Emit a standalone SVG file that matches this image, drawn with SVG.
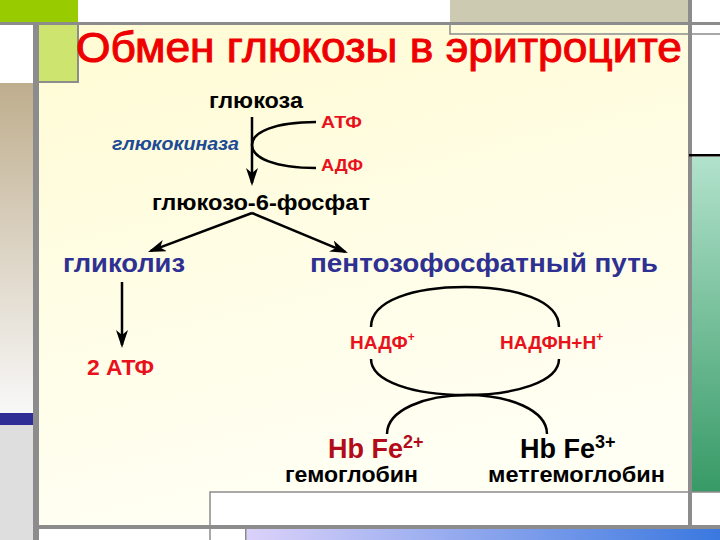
<svg xmlns="http://www.w3.org/2000/svg" width="720" height="540" viewBox="0 0 720 540">
  <defs>
    <linearGradient id="bgMain" x1="0" y1="0" x2="0.3" y2="1">
      <stop offset="0" stop-color="#fffbd4"/>
      <stop offset="1" stop-color="#fffff4"/>
    </linearGradient>
    <linearGradient id="tan" x1="0" y1="0" x2="0" y2="1">
      <stop offset="0" stop-color="#bfae8e"/>
      <stop offset="1" stop-color="#f8f8f8"/>
    </linearGradient>
    <linearGradient id="green" x1="0" y1="0" x2="0" y2="1">
      <stop offset="0" stop-color="#b2e2cc"/>
      <stop offset="1" stop-color="#379a66"/>
    </linearGradient>
    <linearGradient id="blueBar" x1="0" y1="0" x2="1" y2="0">
      <stop offset="0" stop-color="#dcd2fa"/>
      <stop offset="1" stop-color="#3a78e0"/>
    </linearGradient>
    <marker id="arrow" viewBox="0 0 18 12" refX="15" refY="6" markerWidth="18" markerHeight="12" markerUnits="userSpaceOnUse" orient="auto">
      <path d="M0,0 L18,6 L0,12 L5,6 z" fill="#000"/>
    </marker>
    <style>
      .t { font-family: "Liberation Sans", Arial, sans-serif; font-weight: bold; }
      .blk { fill: #000; }
      .red { fill: #e8121c; }
      .dred { fill: #b20c1a; }
      .blue { fill: #2e3192; }
      .conn { stroke: #000; stroke-width: 2.5; fill: none; }
      .arr { marker-end: url(#arrow); }
      .gray { fill: #8c8c8c; }
      .ttl { font-family: "Liberation Sans", Arial, sans-serif; font-weight: normal; fill: #ee0000; stroke: #ee0000; stroke-width: 1; }
    </style>
  </defs>

  <!-- background decoration -->
  <g id="background">
    <rect x="0" y="0" width="720" height="540" fill="#ffffff"/>
    <rect x="39" y="25" width="649" height="500" fill="url(#bgMain)"/>
    <rect x="0" y="0" width="78" height="22" fill="#99cc00"/>
    <rect x="450" y="0" width="238" height="23" fill="#cccab0"/>
    <rect x="0" y="22" width="720" height="3" class="gray"/>
    <rect x="39" y="25" width="39" height="57" fill="#cde46e"/>
    <rect x="77" y="25" width="2" height="58" class="gray"/>
    <rect x="39" y="81" width="40" height="2" class="gray"/>
    <rect x="0" y="83" width="33" height="330" fill="url(#tan)"/>
    <rect x="0" y="413" width="33" height="12" fill="#2e2e96"/>
    <rect x="0" y="425" width="33" height="115" fill="#dedede"/>
    <rect x="33" y="25" width="6" height="515" class="gray"/>
    <rect x="688" y="0" width="4" height="540" class="gray"/>
    <path d="M450,25 V34 H720" stroke="#8c8c8c" stroke-width="1.5" fill="none"/>
    <rect x="692" y="157" width="28" height="335" fill="url(#green)"/>
    <rect x="689" y="154" width="31" height="2.5" fill="#000"/>
    <rect x="210" y="492" width="478" height="33" fill="#ffffff"/>
    <path d="M210,540 V492 H720" stroke="#8c8c8c" stroke-width="1.5" fill="none"/>
    <rect x="39" y="525" width="681" height="4" class="gray"/>
    <rect x="245" y="529" width="475" height="11" fill="url(#blueBar)"/>
    <rect x="245" y="529" width="1.5" height="11" class="gray"/>
  </g>

  <g id="title">
    <text class="ttl" x="76" y="62" font-size="43" textLength="606" lengthAdjust="spacingAndGlyphs">Обмен глюкозы в эритроците</text>
  </g>

  <!-- connectors -->
  <g id="connectors">
    <line class="conn arr" x1="252" y1="117" x2="252" y2="183"/>
    <path class="conn" d="M316,122 C275,122 252,132 252,145 C252,158 275,168 316,168"/>
    <line class="conn arr" x1="252" y1="213" x2="150.8" y2="250.9"/>
    <line class="conn arr" x1="252" y1="213" x2="345.2" y2="251.8"/>
    <line class="conn arr" x1="122" y1="282" x2="122" y2="345"/>
    <path class="conn" d="M371,327 C371,300 415,287 465,287 C515,287 559,300 559,327"/>
    <path class="conn" d="M371,359 C371,382 415,395 465,395 C515,395 559,382 559,359"/>
    <path class="conn" d="M387,434 C387,410 425,395 467,395 C509,395 547,410 547,434"/>
  </g>

  <g id="glucose">
    <text class="t blk" x="209" y="108" font-size="22" textLength="94" lengthAdjust="spacingAndGlyphs">глюкоза</text>
  </g>
  <g id="atp">
    <text class="t red" x="321" y="128" font-size="16" textLength="41" lengthAdjust="spacingAndGlyphs">АТФ</text>
  </g>
  <g id="adp">
    <text class="t red" x="321" y="171" font-size="16" textLength="42" lengthAdjust="spacingAndGlyphs">АДФ</text>
  </g>
  <g id="glucokinase">
    <text class="t" x="112" y="150" font-size="18" font-style="italic" fill="#1c4a94" textLength="127" lengthAdjust="spacingAndGlyphs">глюкокиназа</text>
  </g>
  <g id="g6p">
    <text class="t blk" x="152" y="210" font-size="22" textLength="218" lengthAdjust="spacingAndGlyphs">глюкозо-6-фосфат</text>
  </g>
  <g id="glycolysis">
    <text class="t blue" x="63" y="272" font-size="26" textLength="122" lengthAdjust="spacingAndGlyphs">гликолиз</text>
  </g>
  <g id="ppp">
    <text class="t blue" x="310" y="272" font-size="26" textLength="348" lengthAdjust="spacingAndGlyphs">пентозофосфатный путь</text>
  </g>
  <g id="atp2">
    <text class="t red" x="87" y="375" font-size="22" textLength="67" lengthAdjust="spacingAndGlyphs">2 АТФ</text>
  </g>
  <g id="nadp">
    <text class="t red" x="350" y="349" font-size="19">НАДФ<tspan font-size="12" dy="-8">+</tspan></text>
  </g>
  <g id="nadph">
    <text class="t red" x="500" y="349" font-size="19">НАДФН+Н<tspan font-size="12" dy="-8">+</tspan></text>
  </g>
  <g id="hbfe2">
    <text class="t dred" x="328" y="458" font-size="27">Hb Fe<tspan font-size="18" dy="-10">2+</tspan></text>
  </g>
  <g id="hbfe3">
    <text class="t blk" x="520" y="458" font-size="27">Hb Fe<tspan font-size="18" dy="-10">3+</tspan></text>
  </g>
  <g id="hemoglobin">
    <text class="t blk" x="285" y="482" font-size="22" textLength="133" lengthAdjust="spacingAndGlyphs">гемоглобин</text>
  </g>
  <g id="methemoglobin">
    <text class="t blk" x="488" y="482" font-size="22" textLength="177" lengthAdjust="spacingAndGlyphs">метгемоглобин</text>
  </g>
</svg>
